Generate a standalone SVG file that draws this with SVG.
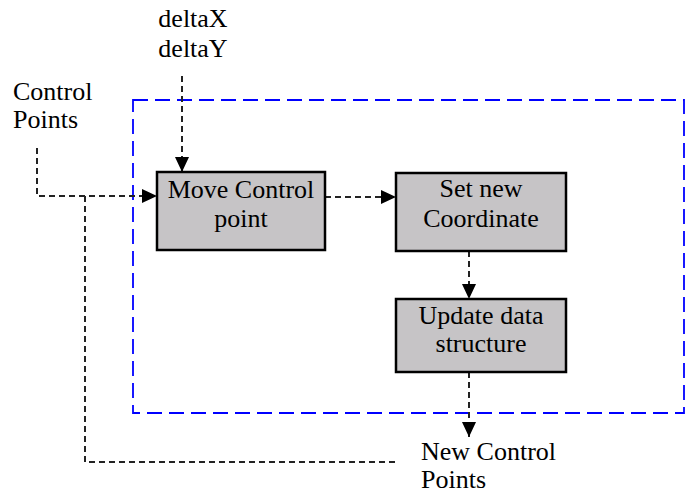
<svg xmlns="http://www.w3.org/2000/svg" width="685" height="495" viewBox="0 0 685 495">
<defs>
<marker id="ah" markerWidth="15" markerHeight="14" refX="15" refY="7" orient="auto" markerUnits="userSpaceOnUse">
<path d="M0,0 L15,7 L0,14 Z" fill="#000"/>
</marker>
<style>
.t{font-family:"Liberation Serif","Times New Roman",serif;font-size:26px;fill:#000}
.box{fill:#c6c4c6;stroke:#000;stroke-width:2.5}
.c{fill:none;stroke:#222;stroke-width:2;stroke-dasharray:6,4}
</style>
</defs>
<rect x="0" y="0" width="685" height="495" fill="#fff"/>
<g id="boundary">
<rect x="133" y="100" width="551" height="313" fill="none" stroke="#0000ff" stroke-width="1.8" stroke-dasharray="15,7"/>
</g>
<g id="connectors">
<path class="c" d="M182,76 V172" marker-end="url(#ah)"/>
<path class="c" d="M37,148 V196 H157" marker-end="url(#ah)"/>
<path class="c" d="M85,196 V462 H398"/>
<path class="c" d="M325,197 H396" marker-end="url(#ah)"/>
<path class="c" d="M469,251 V299" marker-end="url(#ah)"/>
<path class="c" d="M469,372 V437" marker-end="url(#ah)"/>
</g>
<g id="deltaXY">
<text class="t" x="193" y="27" text-anchor="middle">deltaX</text>
<text class="t" x="193" y="57" text-anchor="middle">deltaY</text>
</g>
<g id="controlPoints">
<text class="t" x="13" y="100">Control</text>
<text class="t" x="13" y="128">Points</text>
</g>
<g id="move">
<rect class="box" x="157" y="172" width="168" height="78"/>
<text class="t" x="241" y="198" text-anchor="middle">Move Control</text>
<text class="t" x="241" y="227" text-anchor="middle">point</text>
</g>
<g id="setCoord">
<rect class="box" x="396" y="173" width="170" height="78"/>
<text class="t" x="481" y="197" text-anchor="middle">Set new</text>
<text class="t" x="481" y="227" text-anchor="middle">Coordinate</text>
</g>
<g id="update">
<rect class="box" x="396" y="299" width="170" height="73"/>
<text class="t" x="481" y="324" text-anchor="middle">Update data</text>
<text class="t" x="481" y="352" text-anchor="middle">structure</text>
</g>
<g id="newControlPoints">
<text class="t" x="421" y="460">New Control</text>
<text class="t" x="421" y="488">Points</text>
</g>
</svg>
